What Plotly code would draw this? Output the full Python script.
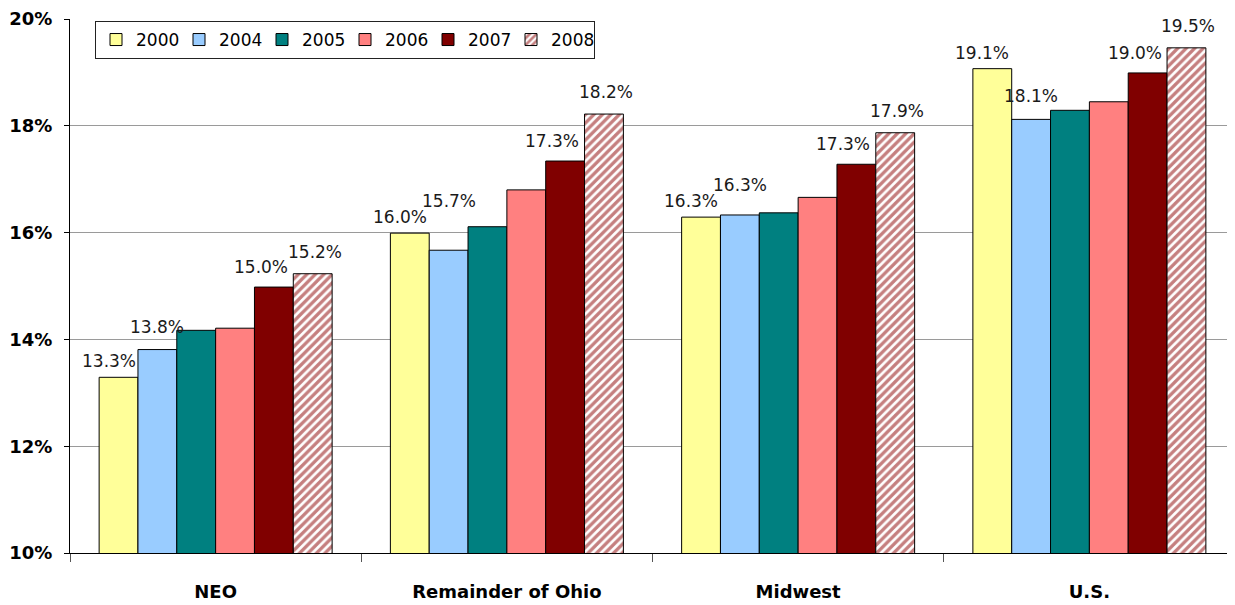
import plotly.graph_objects as go

categories = ["NEO", "Remainder of Ohio", "Midwest", "U.S."]
years = ["2000", "2004", "2005", "2006", "2007", "2008"]
v2000 = [13.29, 15.99, 16.29, 19.07]
v2004 = [13.81, 15.67, 16.33, 18.12]
v2005 = [14.17, 16.11, 16.37, 18.29]
v2006 = [14.21, 16.80, 16.66, 18.45]
v2007 = [14.98, 17.34, 17.28, 18.99]
v2008 = [15.23, 18.22, 17.87, 19.46]
series = [v2000, v2004, v2005, v2006, v2007, v2008]
show_labels = [True, True, False, False, True, True]

colors = ["#FFFF99", "#99CCFF", "#008080", "#FF8080", "#800000", "#FFFFFF"]

# figure geometry (page has an 8px body margin)
W, H = 1227, 597
ML, MR, MT, MB = 62, 0, 6, 52
BARGAP = 0.2
Y0, Y1 = 10, 20
plot_w = W - ML - MR
plot_h = H - MT - MB
bar_px = plot_w / len(categories) * (1 - BARGAP) / len(years)
px_per_unit = plot_h / (Y1 - Y0)
# label nudges per series (x px, y px), like the original's placement
label_dx = [-10, 0, 0, 0, -13, 2]
label_dy = [4, 11, 0, 0, 8, 10]
LABEL_W, LABEL_H = 53, 16

fig = go.Figure()
for i, (yr, vals) in enumerate(zip(years, series)):
    marker = dict(color=colors[i], line=dict(color="#000000", width=1))
    if yr == "2008":
        marker["pattern"] = dict(shape="/", fgcolor="#8B0000", bgcolor="#FFFFFF",
                                 size=6, solidity=0.55)
    fig.add_trace(go.Bar(name=yr, x=categories, y=vals, marker=marker))

# data labels, nudged up when they would collide with a neighbour's label
for ci, c in enumerate(categories):
    placed = []
    for i, vals in enumerate(series):
        if not show_labels[i]:
            continue
        v = vals[ci]
        xc = (i - (len(years) - 1) / 2) * bar_px + label_dx[i]
        base = (v - Y0) * px_per_unit
        bottom = base + label_dy[i]
        for (pxc, pb, pt) in placed:
            if abs(pxc - xc) < LABEL_W and bottom < pt and bottom + LABEL_H > pb:
                bottom = pt
        placed.append((xc, bottom, bottom + LABEL_H))
        fig.add_annotation(x=c, y=v, text=f"{v:.1f}%", showarrow=False,
                           xanchor="center", yanchor="bottom",
                           xshift=xc, yshift=bottom - base,
                           font=dict(family="DejaVu Sans", size=17, color="#1a1a1a"))

fig.update_layout(
    width=W, height=H,
    margin=dict(l=ML, r=MR, t=MT, b=MB),
    barmode="group", bargap=BARGAP, bargroupgap=0,
    plot_bgcolor="white", paper_bgcolor="white",
    showlegend=True,
    legend=dict(orientation="h", x=(95 - 70) / plot_w, y=1 - 2 / plot_h,
                xanchor="left", yanchor="top",
                bordercolor="#222222", borderwidth=1, bgcolor="white",
                font=dict(family="DejaVu Sans", size=17, color="#000000"),
                entrywidth=38, entrywidthmode="pixels", traceorder="normal",
                itemwidth=30),
)
fig.update_yaxes(range=[Y0, Y1], dtick=2, ticksuffix="%", showgrid=True,
                 gridcolor="#9a9a9a", gridwidth=1, showline=True, linecolor="#000000",
                 linewidth=1, ticks="outside", ticklen=5, tickcolor="#000000",
                 tickfont=dict(family="DejaVu Sans", size=18, color="#000000", weight="bold"),
                 ticklabelstandoff=8, ticklabeloverflow="allow", zeroline=False)
fig.update_xaxes(showline=True, linecolor="#000000", linewidth=1, ticks="outside",
                 tickson="boundaries", ticklen=8, tickcolor="#555555",
                 tickfont=dict(family="DejaVu Sans", size=18, color="#000000", weight="bold"),
                 ticklabelstandoff=22)

fig.write_html("out.html")
